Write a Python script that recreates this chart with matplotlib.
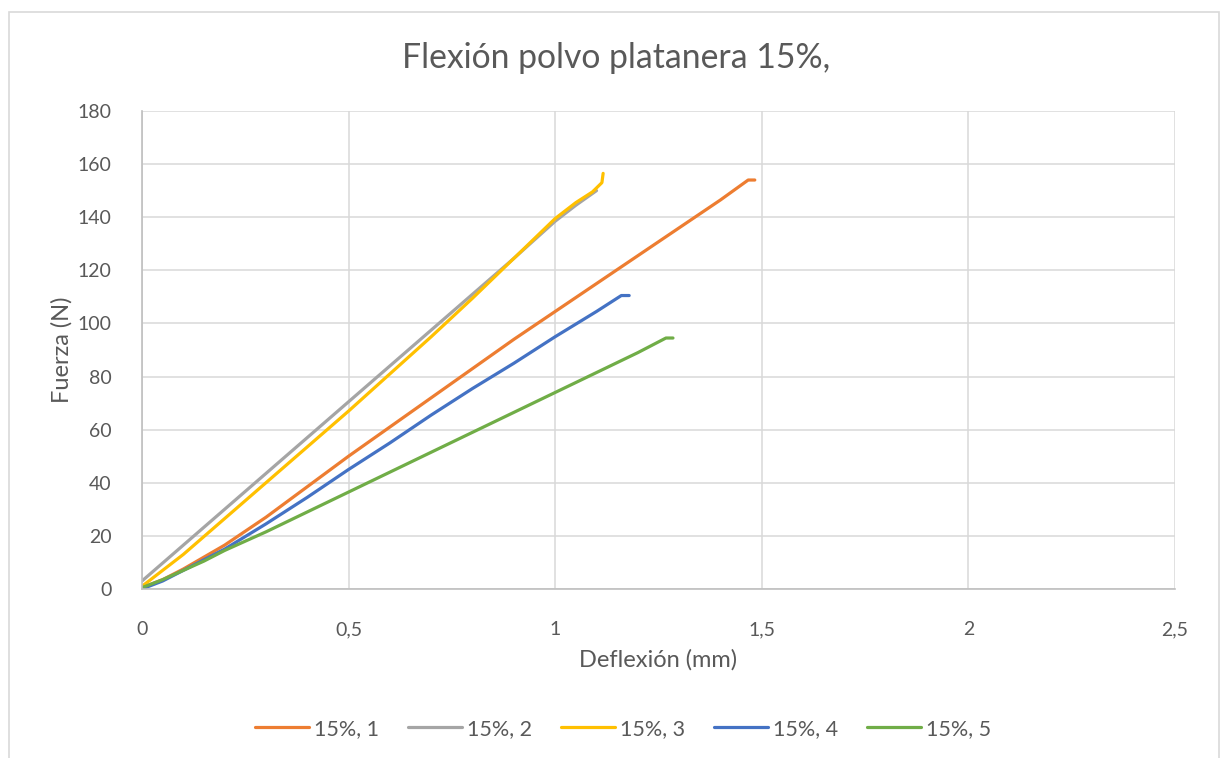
import matplotlib.pyplot as plt
from matplotlib.patches import Rectangle

# --------------------
# Flexion test readings: deflection (mm) vs force (N)

x_1 = [0, 0.05, 0.1, 0.15, 0.2, 0.3, 0.4, 0.5, 0.6, 0.7, 0.8, 0.9, 1.0, 1.1, 1.2, 1.3, 1.4, 1.467, 1.483]
y_1 = [0.5, 3.5, 7.5, 12, 16.5, 27, 38.5, 50, 61, 72, 83, 94, 104.5, 115, 125.5, 136, 146.5, 154, 154]

x_2 = [0, 0.1, 0.2, 0.3, 0.4, 0.5, 0.6, 0.7, 0.8, 0.9, 1.0, 1.05, 1.10]
y_2 = [3, 16.5, 30, 43.5, 57, 70.5, 84, 97.5, 111, 124.5, 138.5, 144.5, 150]

x_3 = [0, 0.1, 0.2, 0.3, 0.4, 0.5, 0.6, 0.7, 0.8, 0.9, 1.0, 1.05, 1.09, 1.113, 1.116]
y_3 = [1, 13, 26.5, 40, 53.5, 67, 81, 95, 109.5, 124.5, 139.5, 145.5, 149.5, 153, 156.5]

x_4 = [0, 0.05, 0.1, 0.15, 0.2, 0.3, 0.4, 0.5, 0.6, 0.7, 0.8, 0.9, 1.0, 1.1, 1.16, 1.179]
y_4 = [0, 3, 7, 11, 15, 24.5, 34.5, 45, 55, 65.5, 75.5, 85, 95, 104.5, 110.5, 110.5]

x_5 = [0, 0.05, 0.1, 0.15, 0.2, 0.3, 0.4, 0.5, 0.6, 0.7, 0.8, 0.9, 1.0, 1.1, 1.2, 1.268, 1.285]
y_5 = [0.5, 3.5, 7, 10.5, 14.5, 21.5, 29, 36.5, 44, 51.5, 59, 66.5, 74, 81.5, 89, 94.5, 94.5]

labels = ["15%, 1", "15%, 2", "15%, 3", "15%, 4", "15%, 5"]
colors = ["#ED7D31", "#A5A5A5", "#FFC000", "#4472C4", "#70AD47"]

x_ticks = [0, 0.5, 1, 1.5, 2, 2.5]
x_tick_labels = ["0", "0,5", "1", "1,5", "2", "2,5"]
y_ticks = [0, 20, 40, 60, 80, 100, 120, 140, 160, 180]

# --------------------

plt.rcParams["font.family"] = ["Lato", "DejaVu Sans"]
text_color = "#595959"

fig = plt.figure(figsize = (12.24, 7.58), dpi = 100)
fig.patches.append(Rectangle((0.0074, -0.02), 0.9885, 1.004, transform = fig.transFigure,
                             facecolor = "white", edgecolor = "#d9d9d9", linewidth = 1.2,
                             zorder = -1))

ax = fig.add_axes([0.116, 0.223, 0.844, 0.6306])
ax.patch.set_alpha(0)

series = [(x_1, y_1), (x_2, y_2), (x_3, y_3), (x_4, y_4), (x_5, y_5)]
for (xs, ys), lab, col in zip(series, labels, colors):
    ax.plot(xs, ys, color = col, linewidth = 2.3, label = lab, solid_capstyle = "round")

ax.set_xlim(0, 2.5)
ax.set_ylim(0, 180)
ax.set_xticks(x_ticks)
ax.set_xticklabels(x_tick_labels)
ax.set_yticks(y_ticks)
ax.tick_params(length = 0, labelsize = 14, labelcolor = text_color)
ax.tick_params(axis = "x", pad = 23)
ax.tick_params(axis = "y", pad = 22)
ax.grid(color = "#d9d9d9", linewidth = 1.1)
ax.set_axisbelow(True)

for side in ["top", "right"]:
    ax.spines[side].set_visible(False)
for side in ["left", "bottom"]:
    ax.spines[side].set_color("#bfbfbf")
    ax.spines[side].set_linewidth(1.2)

ax.set_xlabel("Deflexión (mm)", fontsize = 17, color = text_color)
ax.set_ylabel("Fuerza (N)", fontsize = 17, color = text_color)
ax.xaxis.set_label_coords(0.5, -0.1485)
ax.xaxis.label.set_va("center")
ax.yaxis.set_label_coords(-0.0774, 0.5)
ax.yaxis.label.set_va("center")

fig.text(0.503, 1 - 58 / 758, "Flexión polvo platanera 15%,", fontsize = 24.3,
         color = text_color, ha = "center", va = "center")

fig.legend(loc = "center", bbox_to_anchor = (0.509, 1 - 729 / 758), ncol = 5, frameon = False,
           fontsize = 15.5, labelcolor = text_color, handlelength = 2.5, handletextpad = 0.23,
           columnspacing = 1.35)

plt.savefig("out.png", dpi = 100)
